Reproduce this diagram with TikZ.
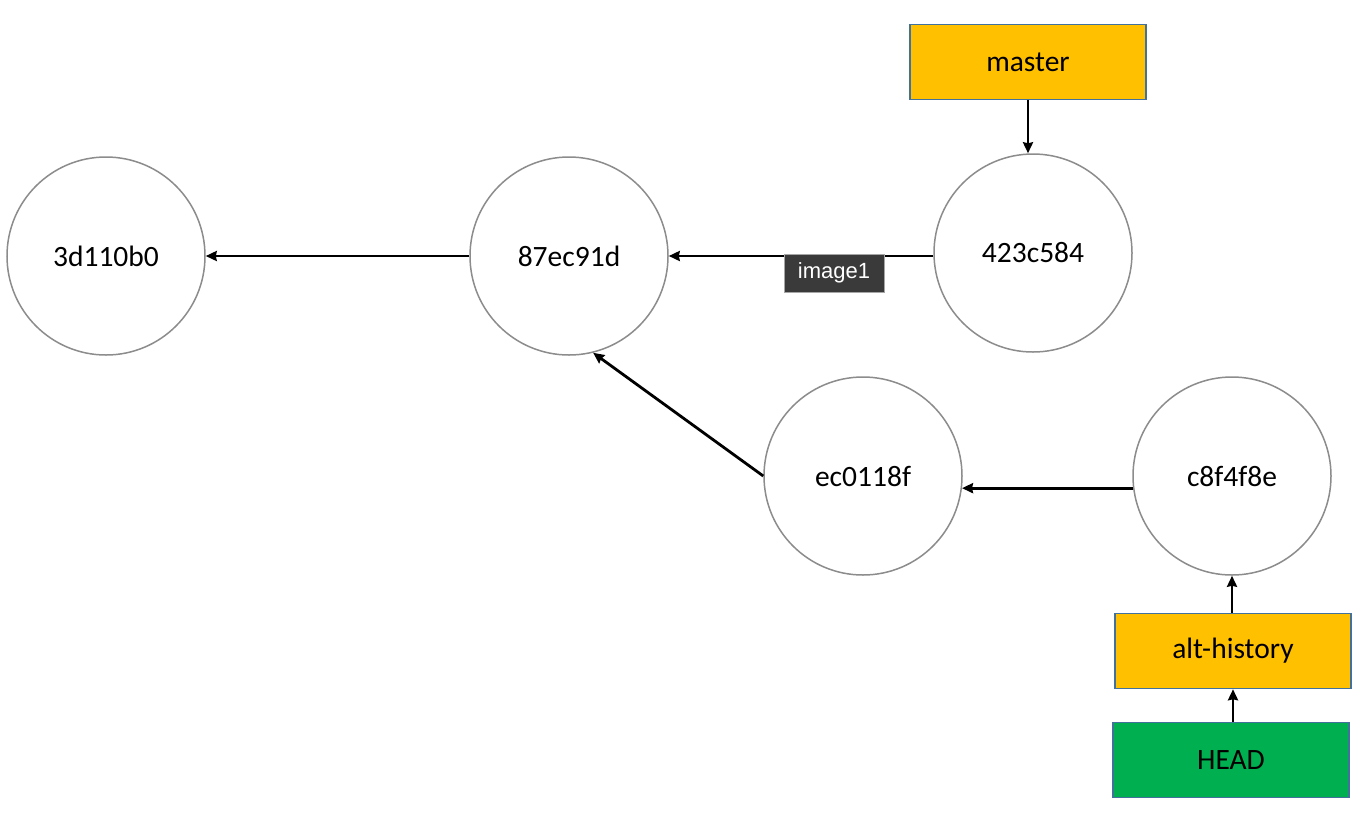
\documentclass[tikz,border=0pt]{standalone}
\usepackage{fontspec}
\setmainfont{Carlito}
\newfontfamily\tipfont{Liberation Sans}
\usetikzlibrary{arrows.meta}
\definecolor{branchfill}{HTML}{FFC000}
\definecolor{headfill}{HTML}{00B050}
\definecolor{boxedge}{HTML}{41719C}
\definecolor{commitedge}{HTML}{8C8C8C}
\definecolor{tipfill}{HTML}{3A3A3A}
\begin{document}
\begin{tikzpicture}[x=1pt,y=-1pt,
  commit/.style={circle,draw=commitedge,line width=1.5pt,fill=white,minimum size=198pt,inner sep=0pt,font=\fontsize{29.5}{32}\selectfont},
  refbox/.style={rectangle,draw=boxedge,line width=1.5pt,minimum width=236pt,minimum height=75pt,inner sep=0pt,font=\fontsize{29.5}{32}\selectfont},
  link/.style={line width=2.8pt,-{Stealth[length=11pt,width=10pt,inset=1pt]}},
  tip/.style={rectangle,fill=tipfill,draw=gray!70,line width=1pt,text=white,minimum width=100pt,minimum height=38pt,inner sep=0pt,font=\tipfont\fontsize{22}{24}\selectfont}]
\useasboundingbox (0,0) rectangle (1368,812);
\fill[white] (0,0) rectangle (1368,812);

% commits
\node[commit] (c1) at (106,256) {3d110b0};
\node[commit] (c2) at (569,256) {87ec91d};
\node[commit] (c3) at (1033,253) {423c584};
\node[commit] (c4) at (863,476) {ec0118f};
\node[commit] (c5) at (1232,476) {c8f4f8e};

% references
\node[refbox,fill=branchfill] (master) at (1028,62) {master};
\node[refbox,fill=branchfill] (alt) at (1233,651) {alt-history};
\node[refbox,fill=headfill] (head) at (1231,760) {HEAD};

% parent links
\draw[link] (c2.west) -- (c1.east);
\draw[link] (c3.west |- c2.west) -- (c2.east);
\draw[link] (c4.west) -- (c2.-76);
\draw[link] (c5.187.5) -- (c4.-7.5);

% reference links
\draw[link] (master.south) -- (master.south |- c3.north);
\draw[link] (alt.north -| c5.south) -- (c5.south);
\draw[link] (head.north -| alt.south) -- (alt.south);

% label over the link
\node[tip] (label) at (834,273) {image1};
\end{tikzpicture}
\end{document}
